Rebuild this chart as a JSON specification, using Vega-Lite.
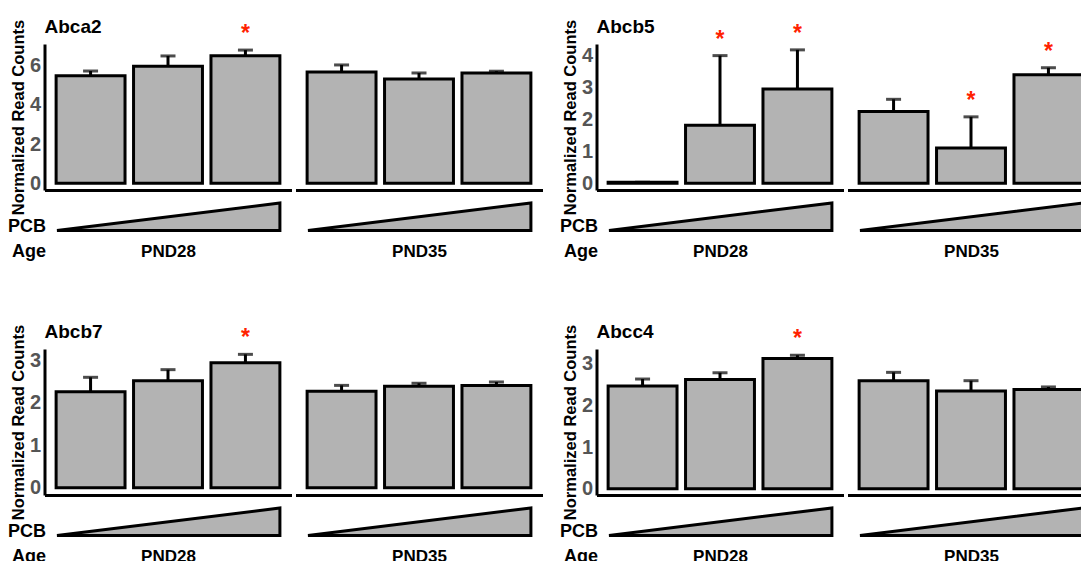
{
  "$schema": "https://vega.github.io/schema/vega-lite/v6.json",
  "padding": {"left": 6.5, "top": 18, "right": 0, "bottom": 0},
  "background": "white",
  "datasets": {
    "bars": [
      {"gene":"Abca2","age":"PND28","dose":1,"mean":5.49,"upper":5.73,"star":""},
      {"gene":"Abca2","age":"PND28","dose":2,"mean":5.97,"upper":6.5,"star":""},
      {"gene":"Abca2","age":"PND28","dose":3,"mean":6.51,"upper":6.8,"star":"*"},
      {"gene":"Abca2","age":"PND35","dose":1,"mean":5.68,"upper":6.04,"star":""},
      {"gene":"Abca2","age":"PND35","dose":2,"mean":5.32,"upper":5.63,"star":""},
      {"gene":"Abca2","age":"PND35","dose":3,"mean":5.63,"upper":5.72,"star":""},
      {"gene":"Abcb5","age":"PND28","dose":1,"mean":0.03,"upper":0.03,"star":""},
      {"gene":"Abcb5","age":"PND28","dose":2,"mean":1.82,"upper":4.0,"star":"*"},
      {"gene":"Abcb5","age":"PND28","dose":3,"mean":2.95,"upper":4.18,"star":"*"},
      {"gene":"Abcb5","age":"PND35","dose":1,"mean":2.25,"upper":2.63,"star":""},
      {"gene":"Abcb5","age":"PND35","dose":2,"mean":1.10,"upper":2.08,"star":"*"},
      {"gene":"Abcb5","age":"PND35","dose":3,"mean":3.40,"upper":3.62,"star":"*"},
      {"gene":"Abcb7","age":"PND28","dose":1,"mean":2.26,"upper":2.6,"star":""},
      {"gene":"Abcb7","age":"PND28","dose":2,"mean":2.52,"upper":2.78,"star":""},
      {"gene":"Abcb7","age":"PND28","dose":3,"mean":2.94,"upper":3.14,"star":"*"},
      {"gene":"Abcb7","age":"PND35","dose":1,"mean":2.27,"upper":2.41,"star":""},
      {"gene":"Abcb7","age":"PND35","dose":2,"mean":2.39,"upper":2.46,"star":""},
      {"gene":"Abcb7","age":"PND35","dose":3,"mean":2.41,"upper":2.49,"star":""},
      {"gene":"Abcc4","age":"PND28","dose":1,"mean":2.46,"upper":2.63,"star":""},
      {"gene":"Abcc4","age":"PND28","dose":2,"mean":2.62,"upper":2.78,"star":""},
      {"gene":"Abcc4","age":"PND28","dose":3,"mean":3.12,"upper":3.2,"star":"*"},
      {"gene":"Abcc4","age":"PND35","dose":1,"mean":2.59,"upper":2.79,"star":""},
      {"gene":"Abcc4","age":"PND35","dose":2,"mean":2.34,"upper":2.59,"star":""},
      {"gene":"Abcc4","age":"PND35","dose":3,"mean":2.38,"upper":2.44,"star":""}
    ],
    "tri": [{"x": 0, "y": 0}, {"x": 1, "y": 1}]
  },
  "config": {
    "view": {"stroke": null},
    "font": "Liberation Sans",
    "axis": {"grid": false, "ticks": false, "domainColor": "black", "domainWidth": 3, "labelFont": "Liberation Sans", "titleFont": "Liberation Sans", "labelFontWeight": "bold", "titleFontWeight": "bold", "labelFlush": false, "labelOverlap": false},
    "scale": {"nice": false},
    "title": {"font": "Liberation Sans", "fontWeight": "bold", "fontSize": 19, "color": "black", "anchor": "start", "frame": "group", "offset": -18, "baseline": "alphabetic"},
    "text": {"font": "Liberation Sans"}
  },
  "columns": 5,
  "align": "each",
  "bounds": "flush",
  "spacing": {"row": 8, "column": 4},
  "concat": [
    {
      "width": 247, "height": 146, "title": "Abca2",
      "data": {"name": "bars"},
      "transform": [{"filter": {"and": [{"field": "gene", "equal": "Abca2"}, {"field": "age", "equal": "PND28"}]}}],
      "encoding": {"x": {"field": "dose", "type": "ordinal", "scale": {"paddingInner": 0.11, "paddingOuter": 0.15}, "axis": {"labels": false, "title": null}}},
      "layer": [
        {"mark": {"type": "bar", "fill": "#b3b3b3", "stroke": "black", "strokeWidth": 3}, "encoding": {"y": {"field": "mean", "type": "quantitative", "scale": {"domain": [-0.347, 7.11], "nice": false}, "axis": {"values": [0, 2, 4, 6], "title": "Normalized Read Counts", "labelFontSize": 20, "labelColor": "#555555", "labelPadding": 4, "titleFontSize": 16.5, "titleColor": "black", "titlePadding": 3}}}},
        {"mark": {"type": "rule", "color": "black", "strokeWidth": 3}, "encoding": {"y": {"field": "mean", "type": "quantitative", "axis": {"values": [0, 2, 4, 6], "title": "Normalized Read Counts", "labelFontSize": 20, "labelColor": "#555555", "labelPadding": 4, "titleFontSize": 16.5, "titleColor": "black", "titlePadding": 3}}, "y2": {"field": "upper"}}},
        {"mark": {"type": "tick", "color": "black", "thickness": 3, "size": 15}, "encoding": {"y": {"field": "upper", "type": "quantitative", "axis": {"values": [0, 2, 4, 6], "title": "Normalized Read Counts", "labelFontSize": 20, "labelColor": "#555555", "labelPadding": 4, "titleFontSize": 16.5, "titleColor": "black", "titlePadding": 3}}}},
        {"mark": {"type": "text", "color": "#ff2200", "fontSize": 23, "fontWeight": "bold", "baseline": "alphabetic", "dy": -9}, "encoding": {"y": {"field": "upper", "type": "quantitative", "axis": {"values": [0, 2, 4, 6], "title": "Normalized Read Counts", "labelFontSize": 20, "labelColor": "#555555", "labelPadding": 4, "titleFontSize": 16.5, "titleColor": "black", "titlePadding": 3}}, "text": {"field": "star"}}}
      ]
    },
    {
      "width": 247, "height": 146,
      "data": {"name": "bars"},
      "transform": [{"filter": {"and": [{"field": "gene", "equal": "Abca2"}, {"field": "age", "equal": "PND35"}]}}],
      "encoding": {"x": {"field": "dose", "type": "ordinal", "scale": {"paddingInner": 0.11, "paddingOuter": 0.15}, "axis": {"labels": false, "title": null}}},
      "layer": [
        {"mark": {"type": "bar", "fill": "#b3b3b3", "stroke": "black", "strokeWidth": 3}, "encoding": {"y": {"field": "mean", "type": "quantitative", "scale": {"domain": [-0.347, 7.11], "nice": false}, "axis": null}}},
        {"mark": {"type": "rule", "color": "black", "strokeWidth": 3}, "encoding": {"y": {"field": "mean", "type": "quantitative", "axis": null}, "y2": {"field": "upper"}}},
        {"mark": {"type": "tick", "color": "black", "thickness": 3, "size": 15}, "encoding": {"y": {"field": "upper", "type": "quantitative", "axis": null}}},
        {"mark": {"type": "text", "color": "#ff2200", "fontSize": 23, "fontWeight": "bold", "baseline": "alphabetic", "dy": -9}, "encoding": {"y": {"field": "upper", "type": "quantitative", "axis": null}, "text": {"field": "star"}}}
      ]
    },
    {"width": 46, "height": 1, "data": {"values": [{"a": 1}]}, "mark": {"type": "text", "text": ""}, "encoding": {}},
    {
      "width": 247, "height": 146, "title": "Abcb5",
      "data": {"name": "bars"},
      "transform": [{"filter": {"and": [{"field": "gene", "equal": "Abcb5"}, {"field": "age", "equal": "PND28"}]}}],
      "encoding": {"x": {"field": "dose", "type": "ordinal", "scale": {"paddingInner": 0.11, "paddingOuter": 0.15}, "axis": {"labels": false, "title": null}}},
      "layer": [
        {"mark": {"type": "bar", "fill": "#b3b3b3", "stroke": "black", "strokeWidth": 3}, "encoding": {"y": {"field": "mean", "type": "quantitative", "scale": {"domain": [-0.213, 4.364], "nice": false}, "axis": {"values": [0, 1, 2, 3, 4], "title": "Normalized Read Counts", "labelFontSize": 20, "labelColor": "#555555", "labelPadding": 4, "titleFontSize": 16.5, "titleColor": "black", "titlePadding": 3}}}},
        {"mark": {"type": "rule", "color": "black", "strokeWidth": 3}, "encoding": {"y": {"field": "mean", "type": "quantitative", "axis": {"values": [0, 1, 2, 3, 4], "title": "Normalized Read Counts", "labelFontSize": 20, "labelColor": "#555555", "labelPadding": 4, "titleFontSize": 16.5, "titleColor": "black", "titlePadding": 3}}, "y2": {"field": "upper"}}},
        {"mark": {"type": "tick", "color": "black", "thickness": 3, "size": 15}, "encoding": {"y": {"field": "upper", "type": "quantitative", "axis": {"values": [0, 1, 2, 3, 4], "title": "Normalized Read Counts", "labelFontSize": 20, "labelColor": "#555555", "labelPadding": 4, "titleFontSize": 16.5, "titleColor": "black", "titlePadding": 3}}}},
        {"mark": {"type": "text", "color": "#ff2200", "fontSize": 23, "fontWeight": "bold", "baseline": "alphabetic", "dy": -9}, "encoding": {"y": {"field": "upper", "type": "quantitative", "axis": {"values": [0, 1, 2, 3, 4], "title": "Normalized Read Counts", "labelFontSize": 20, "labelColor": "#555555", "labelPadding": 4, "titleFontSize": 16.5, "titleColor": "black", "titlePadding": 3}}, "text": {"field": "star"}}}
      ]
    },
    {
      "width": 247, "height": 146,
      "data": {"name": "bars"},
      "transform": [{"filter": {"and": [{"field": "gene", "equal": "Abcb5"}, {"field": "age", "equal": "PND35"}]}}],
      "encoding": {"x": {"field": "dose", "type": "ordinal", "scale": {"paddingInner": 0.11, "paddingOuter": 0.15}, "axis": {"labels": false, "title": null}}},
      "layer": [
        {"mark": {"type": "bar", "fill": "#b3b3b3", "stroke": "black", "strokeWidth": 3}, "encoding": {"y": {"field": "mean", "type": "quantitative", "scale": {"domain": [-0.213, 4.364], "nice": false}, "axis": null}}},
        {"mark": {"type": "rule", "color": "black", "strokeWidth": 3}, "encoding": {"y": {"field": "mean", "type": "quantitative", "axis": null}, "y2": {"field": "upper"}}},
        {"mark": {"type": "tick", "color": "black", "thickness": 3, "size": 15}, "encoding": {"y": {"field": "upper", "type": "quantitative", "axis": null}}},
        {"mark": {"type": "text", "color": "#ff2200", "fontSize": 23, "fontWeight": "bold", "baseline": "alphabetic", "dy": -9}, "encoding": {"y": {"field": "upper", "type": "quantitative", "axis": null}, "text": {"field": "star"}}}
      ]
    },
    {
      "width": 247, "height": 142.5,
      "layer": [
        {"data": {"name": "tri"}, "mark": {"type": "area", "fill": "#b3b3b3", "stroke": "black", "strokeWidth": 3}, "encoding": {"x": {"field": "x", "type": "quantitative", "scale": {"domain": [-0.056, 1.052], "nice": false}, "axis": null}, "y": {"field": "y", "type": "quantitative", "scale": {"domain": [-4, 1.18], "nice": false}, "axis": {"domain": false, "values": [0.15, -0.78], "labelExpr": "datum.value > 0 ? 'PCB' : 'Age'", "labelFontSize": 18, "labelColor": "black", "labelPadding": -1, "title": null}}}},
        {"data": {"values": [{"age": "PND28"}]}, "mark": {"type": "text", "fontSize": 17, "fontWeight": "bold", "color": "black"}, "encoding": {"x": {"datum": 0.5, "type": "quantitative"}, "y": {"datum": -0.78, "type": "quantitative", "axis": {"domain": false, "values": [0.15, -0.78], "labelExpr": "datum.value > 0 ? 'PCB' : 'Age'", "labelFontSize": 18, "labelColor": "black", "labelPadding": -1, "title": null}}, "text": {"field": "age"}}}
      ]
    },
    {
      "width": 247, "height": 142.5,
      "layer": [
        {"data": {"name": "tri"}, "mark": {"type": "area", "fill": "#b3b3b3", "stroke": "black", "strokeWidth": 3}, "encoding": {"x": {"field": "x", "type": "quantitative", "scale": {"domain": [-0.056, 1.052], "nice": false}, "axis": null}, "y": {"field": "y", "type": "quantitative", "scale": {"domain": [-4, 1.18], "nice": false}, "axis": null}}},
        {"data": {"values": [{"age": "PND35"}]}, "mark": {"type": "text", "fontSize": 17, "fontWeight": "bold", "color": "black"}, "encoding": {"x": {"datum": 0.5, "type": "quantitative", "axis": null}, "y": {"datum": -0.78, "type": "quantitative", "axis": null}, "text": {"field": "age"}}}
      ]
    },
    {"width": 46, "height": 1, "data": {"values": [{"a": 1}]}, "mark": {"type": "text", "text": ""}, "encoding": {}},
    {
      "width": 247, "height": 142.5,
      "layer": [
        {"data": {"name": "tri"}, "mark": {"type": "area", "fill": "#b3b3b3", "stroke": "black", "strokeWidth": 3}, "encoding": {"x": {"field": "x", "type": "quantitative", "scale": {"domain": [-0.056, 1.052], "nice": false}, "axis": null}, "y": {"field": "y", "type": "quantitative", "scale": {"domain": [-4, 1.18], "nice": false}, "axis": {"domain": false, "values": [0.15, -0.78], "labelExpr": "datum.value > 0 ? 'PCB' : 'Age'", "labelFontSize": 18, "labelColor": "black", "labelPadding": -1, "title": null}}}},
        {"data": {"values": [{"age": "PND28"}]}, "mark": {"type": "text", "fontSize": 17, "fontWeight": "bold", "color": "black"}, "encoding": {"x": {"datum": 0.5, "type": "quantitative"}, "y": {"datum": -0.78, "type": "quantitative", "axis": {"domain": false, "values": [0.15, -0.78], "labelExpr": "datum.value > 0 ? 'PCB' : 'Age'", "labelFontSize": 18, "labelColor": "black", "labelPadding": -1, "title": null}}, "text": {"field": "age"}}}
      ]
    },
    {
      "width": 247, "height": 142.5,
      "layer": [
        {"data": {"name": "tri"}, "mark": {"type": "area", "fill": "#b3b3b3", "stroke": "black", "strokeWidth": 3}, "encoding": {"x": {"field": "x", "type": "quantitative", "scale": {"domain": [-0.056, 1.052], "nice": false}, "axis": null}, "y": {"field": "y", "type": "quantitative", "scale": {"domain": [-4, 1.18], "nice": false}, "axis": null}}},
        {"data": {"values": [{"age": "PND35"}]}, "mark": {"type": "text", "fontSize": 17, "fontWeight": "bold", "color": "black"}, "encoding": {"x": {"datum": 0.5, "type": "quantitative", "axis": null}, "y": {"datum": -0.78, "type": "quantitative", "axis": null}, "text": {"field": "age"}}}
      ]
    },
    {
      "width": 247, "height": 146, "title": "Abcb7",
      "data": {"name": "bars"},
      "transform": [{"filter": {"and": [{"field": "gene", "equal": "Abcb7"}, {"field": "age", "equal": "PND28"}]}}],
      "encoding": {"x": {"field": "dose", "type": "ordinal", "scale": {"paddingInner": 0.11, "paddingOuter": 0.15}, "axis": {"labels": false, "title": null}}},
      "layer": [
        {"mark": {"type": "bar", "fill": "#b3b3b3", "stroke": "black", "strokeWidth": 3}, "encoding": {"y": {"field": "mean", "type": "quantitative", "scale": {"domain": [-0.169, 3.266], "nice": false}, "axis": {"values": [0, 1, 2, 3], "title": "Normalized Read Counts", "labelFontSize": 20, "labelColor": "#555555", "labelPadding": 4, "titleFontSize": 16.5, "titleColor": "black", "titlePadding": 3}}}},
        {"mark": {"type": "rule", "color": "black", "strokeWidth": 3}, "encoding": {"y": {"field": "mean", "type": "quantitative", "axis": {"values": [0, 1, 2, 3], "title": "Normalized Read Counts", "labelFontSize": 20, "labelColor": "#555555", "labelPadding": 4, "titleFontSize": 16.5, "titleColor": "black", "titlePadding": 3}}, "y2": {"field": "upper"}}},
        {"mark": {"type": "tick", "color": "black", "thickness": 3, "size": 15}, "encoding": {"y": {"field": "upper", "type": "quantitative", "axis": {"values": [0, 1, 2, 3], "title": "Normalized Read Counts", "labelFontSize": 20, "labelColor": "#555555", "labelPadding": 4, "titleFontSize": 16.5, "titleColor": "black", "titlePadding": 3}}}},
        {"mark": {"type": "text", "color": "#ff2200", "fontSize": 23, "fontWeight": "bold", "baseline": "alphabetic", "dy": -9}, "encoding": {"y": {"field": "upper", "type": "quantitative", "axis": {"values": [0, 1, 2, 3], "title": "Normalized Read Counts", "labelFontSize": 20, "labelColor": "#555555", "labelPadding": 4, "titleFontSize": 16.5, "titleColor": "black", "titlePadding": 3}}, "text": {"field": "star"}}}
      ]
    },
    {
      "width": 247, "height": 146,
      "data": {"name": "bars"},
      "transform": [{"filter": {"and": [{"field": "gene", "equal": "Abcb7"}, {"field": "age", "equal": "PND35"}]}}],
      "encoding": {"x": {"field": "dose", "type": "ordinal", "scale": {"paddingInner": 0.11, "paddingOuter": 0.15}, "axis": {"labels": false, "title": null}}},
      "layer": [
        {"mark": {"type": "bar", "fill": "#b3b3b3", "stroke": "black", "strokeWidth": 3}, "encoding": {"y": {"field": "mean", "type": "quantitative", "scale": {"domain": [-0.169, 3.266], "nice": false}, "axis": null}}},
        {"mark": {"type": "rule", "color": "black", "strokeWidth": 3}, "encoding": {"y": {"field": "mean", "type": "quantitative", "axis": null}, "y2": {"field": "upper"}}},
        {"mark": {"type": "tick", "color": "black", "thickness": 3, "size": 15}, "encoding": {"y": {"field": "upper", "type": "quantitative", "axis": null}}},
        {"mark": {"type": "text", "color": "#ff2200", "fontSize": 23, "fontWeight": "bold", "baseline": "alphabetic", "dy": -9}, "encoding": {"y": {"field": "upper", "type": "quantitative", "axis": null}, "text": {"field": "star"}}}
      ]
    },
    {"width": 46, "height": 1, "data": {"values": [{"a": 1}]}, "mark": {"type": "text", "text": ""}, "encoding": {}},
    {
      "width": 247, "height": 146, "title": "Abcc4",
      "data": {"name": "bars"},
      "transform": [{"filter": {"and": [{"field": "gene", "equal": "Abcc4"}, {"field": "age", "equal": "PND28"}]}}],
      "encoding": {"x": {"field": "dose", "type": "ordinal", "scale": {"paddingInner": 0.11, "paddingOuter": 0.15}, "axis": {"labels": false, "title": null}}},
      "layer": [
        {"mark": {"type": "bar", "fill": "#b3b3b3", "stroke": "black", "strokeWidth": 3}, "encoding": {"y": {"field": "mean", "type": "quantitative", "scale": {"domain": [-0.151, 3.35], "nice": false}, "axis": {"values": [0, 1, 2, 3], "title": "Normalized Read Counts", "labelFontSize": 20, "labelColor": "#555555", "labelPadding": 4, "titleFontSize": 16.5, "titleColor": "black", "titlePadding": 3}}}},
        {"mark": {"type": "rule", "color": "black", "strokeWidth": 3}, "encoding": {"y": {"field": "mean", "type": "quantitative", "axis": {"values": [0, 1, 2, 3], "title": "Normalized Read Counts", "labelFontSize": 20, "labelColor": "#555555", "labelPadding": 4, "titleFontSize": 16.5, "titleColor": "black", "titlePadding": 3}}, "y2": {"field": "upper"}}},
        {"mark": {"type": "tick", "color": "black", "thickness": 3, "size": 15}, "encoding": {"y": {"field": "upper", "type": "quantitative", "axis": {"values": [0, 1, 2, 3], "title": "Normalized Read Counts", "labelFontSize": 20, "labelColor": "#555555", "labelPadding": 4, "titleFontSize": 16.5, "titleColor": "black", "titlePadding": 3}}}},
        {"mark": {"type": "text", "color": "#ff2200", "fontSize": 23, "fontWeight": "bold", "baseline": "alphabetic", "dy": -9}, "encoding": {"y": {"field": "upper", "type": "quantitative", "axis": {"values": [0, 1, 2, 3], "title": "Normalized Read Counts", "labelFontSize": 20, "labelColor": "#555555", "labelPadding": 4, "titleFontSize": 16.5, "titleColor": "black", "titlePadding": 3}}, "text": {"field": "star"}}}
      ]
    },
    {
      "width": 247, "height": 146,
      "data": {"name": "bars"},
      "transform": [{"filter": {"and": [{"field": "gene", "equal": "Abcc4"}, {"field": "age", "equal": "PND35"}]}}],
      "encoding": {"x": {"field": "dose", "type": "ordinal", "scale": {"paddingInner": 0.11, "paddingOuter": 0.15}, "axis": {"labels": false, "title": null}}},
      "layer": [
        {"mark": {"type": "bar", "fill": "#b3b3b3", "stroke": "black", "strokeWidth": 3}, "encoding": {"y": {"field": "mean", "type": "quantitative", "scale": {"domain": [-0.151, 3.35], "nice": false}, "axis": null}}},
        {"mark": {"type": "rule", "color": "black", "strokeWidth": 3}, "encoding": {"y": {"field": "mean", "type": "quantitative", "axis": null}, "y2": {"field": "upper"}}},
        {"mark": {"type": "tick", "color": "black", "thickness": 3, "size": 15}, "encoding": {"y": {"field": "upper", "type": "quantitative", "axis": null}}},
        {"mark": {"type": "text", "color": "#ff2200", "fontSize": 23, "fontWeight": "bold", "baseline": "alphabetic", "dy": -9}, "encoding": {"y": {"field": "upper", "type": "quantitative", "axis": null}, "text": {"field": "star"}}}
      ]
    },
    {
      "width": 247, "height": 60,
      "layer": [
        {"data": {"name": "tri"}, "mark": {"type": "area", "fill": "#b3b3b3", "stroke": "black", "strokeWidth": 3}, "encoding": {"x": {"field": "x", "type": "quantitative", "scale": {"domain": [-0.056, 1.052], "nice": false}, "axis": null}, "y": {"field": "y", "type": "quantitative", "scale": {"domain": [-1, 1.18], "nice": false}, "axis": {"domain": false, "values": [0.15, -0.78], "labelExpr": "datum.value > 0 ? 'PCB' : 'Age'", "labelFontSize": 18, "labelColor": "black", "labelPadding": -1, "title": null}}}},
        {"data": {"values": [{"age": "PND28"}]}, "mark": {"type": "text", "fontSize": 17, "fontWeight": "bold", "color": "black"}, "encoding": {"x": {"datum": 0.5, "type": "quantitative"}, "y": {"datum": -0.78, "type": "quantitative", "axis": {"domain": false, "values": [0.15, -0.78], "labelExpr": "datum.value > 0 ? 'PCB' : 'Age'", "labelFontSize": 18, "labelColor": "black", "labelPadding": -1, "title": null}}, "text": {"field": "age"}}}
      ]
    },
    {
      "width": 247, "height": 60,
      "layer": [
        {"data": {"name": "tri"}, "mark": {"type": "area", "fill": "#b3b3b3", "stroke": "black", "strokeWidth": 3}, "encoding": {"x": {"field": "x", "type": "quantitative", "scale": {"domain": [-0.056, 1.052], "nice": false}, "axis": null}, "y": {"field": "y", "type": "quantitative", "scale": {"domain": [-1, 1.18], "nice": false}, "axis": null}}},
        {"data": {"values": [{"age": "PND35"}]}, "mark": {"type": "text", "fontSize": 17, "fontWeight": "bold", "color": "black"}, "encoding": {"x": {"datum": 0.5, "type": "quantitative", "axis": null}, "y": {"datum": -0.78, "type": "quantitative", "axis": null}, "text": {"field": "age"}}}
      ]
    },
    {"width": 46, "height": 1, "data": {"values": [{"a": 1}]}, "mark": {"type": "text", "text": ""}, "encoding": {}},
    {
      "width": 247, "height": 60,
      "layer": [
        {"data": {"name": "tri"}, "mark": {"type": "area", "fill": "#b3b3b3", "stroke": "black", "strokeWidth": 3}, "encoding": {"x": {"field": "x", "type": "quantitative", "scale": {"domain": [-0.056, 1.052], "nice": false}, "axis": null}, "y": {"field": "y", "type": "quantitative", "scale": {"domain": [-1, 1.18], "nice": false}, "axis": {"domain": false, "values": [0.15, -0.78], "labelExpr": "datum.value > 0 ? 'PCB' : 'Age'", "labelFontSize": 18, "labelColor": "black", "labelPadding": -1, "title": null}}}},
        {"data": {"values": [{"age": "PND28"}]}, "mark": {"type": "text", "fontSize": 17, "fontWeight": "bold", "color": "black"}, "encoding": {"x": {"datum": 0.5, "type": "quantitative"}, "y": {"datum": -0.78, "type": "quantitative", "axis": {"domain": false, "values": [0.15, -0.78], "labelExpr": "datum.value > 0 ? 'PCB' : 'Age'", "labelFontSize": 18, "labelColor": "black", "labelPadding": -1, "title": null}}, "text": {"field": "age"}}}
      ]
    },
    {
      "width": 247, "height": 60,
      "layer": [
        {"data": {"name": "tri"}, "mark": {"type": "area", "fill": "#b3b3b3", "stroke": "black", "strokeWidth": 3}, "encoding": {"x": {"field": "x", "type": "quantitative", "scale": {"domain": [-0.056, 1.052], "nice": false}, "axis": null}, "y": {"field": "y", "type": "quantitative", "scale": {"domain": [-1, 1.18], "nice": false}, "axis": null}}},
        {"data": {"values": [{"age": "PND35"}]}, "mark": {"type": "text", "fontSize": 17, "fontWeight": "bold", "color": "black"}, "encoding": {"x": {"datum": 0.5, "type": "quantitative", "axis": null}, "y": {"datum": -0.78, "type": "quantitative", "axis": null}, "text": {"field": "age"}}}
      ]
    }
  ]
}
